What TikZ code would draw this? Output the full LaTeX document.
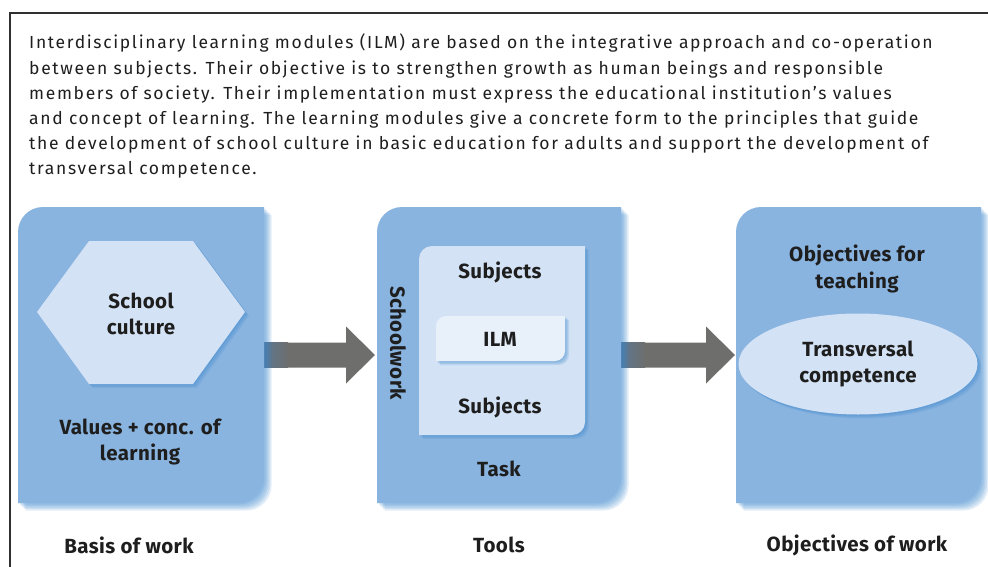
\documentclass[tikz,border=0pt]{standalone}
\usepackage{fontspec}
\setmainfont{Fira Sans}
\newfontfamily\introfont{Fira Sans}[LetterSpace=9.5]
\newfontfamily\headfont{Fira Sans}[LetterSpace=2]
\usetikzlibrary{calc,shapes.geometric,shadows}

\definecolor{panelblue}{HTML}{8AB4E0}
\definecolor{paleblue}{HTML}{D3E2F4}
\definecolor{ilmblue}{HTML}{E8F0FA}
\definecolor{glowblue}{HTML}{3A86CC}
\definecolor{arrowgray}{HTML}{6E6E6D}
\definecolor{arrowblue}{HTML}{5D7892}
\definecolor{inkgray}{HTML}{1E1E1E}
\definecolor{framegray}{HTML}{303030}

% box with rounded top left and bottom right corners: x1,y1,x2,y2,radius
\newcommand\panelpath[5]{(#1,#2+#5) arc[start angle=180,end angle=270,radius=#5] -- (#3,#2) -- (#3,#4-#5) arc[start angle=0,end angle=90,radius=#5] -- (#1,#4) -- cycle}

% fat grey arrow from a tail point to a tip point
\newcommand\blockarrow[2]{%
  \fill[arrowgray] ($(#1)+(0,-12.5)$) -- ($(#2)+(-29,-12.5)$) -- ($(#2)+(-29,-28.5)$) -- (#2)
    -- ($(#2)+(-29,28.5)$) -- ($(#2)+(-29,12.5)$) -- ($(#1)+(0,12.5)$) -- cycle;
  \shade[left color=arrowblue,right color=arrowgray] ($(#1)+(0,-12.5)$) rectangle ($(#1)+(24,12.5)$);}

\begin{document}
\begin{tikzpicture}[x=1pt,y=-1pt,
    glow/.style={drop shadow={shadow xshift=#1,shadow yshift=-#1,opacity=.15,fill=glowblue}},
    softshadow/.style={glow=1.5pt,glow=3pt,glow=4.5pt,glow=6pt,glow=7.5pt},
    smallshadow/.style={glow=1pt,glow=2pt,glow=3pt,glow=4pt},
    bodytext/.style={font=\introfont\fontsize{17.5}{25.2}\selectfont,text=inkgray,align=left,inner sep=0pt},
    heading/.style={font=\headfont\fontsize{20.5}{26.5}\selectfont\bfseries,text=inkgray,align=center,inner sep=0pt}]
  \useasboundingbox (0,0) rectangle (988,567);

  % frame
  \draw[framegray,line width=1.5pt] (988,13) -- (10,13) -- (10,567);

  \node[bodytext,anchor=north west] (intro) at (29,34) {Interdisciplinary learning modules (ILM) are based on the integrative approach and co-operation\\
    between subjects. Their objective is to strengthen growth as human beings and responsible\\
    members of society. Their implementation must express the educational institution’s values\\
    and concept of learning. The learning modules give a concrete form to the principles that guide\\
    the development of school culture in basic education for adults and support the development of\\
    transversal competence.};

  % arrow ends
  \coordinate (basis-e) at (264,355);
  \coordinate (tools-w) at (375,355);
  \coordinate (tools-e) at (621,355);
  \coordinate (goals-w) at (735,355);
  \blockarrow{basis-e}{tools-w}
  \blockarrow{tools-e}{goals-w}

  % the three panels
  \foreach \xa/\xb in {18/264, 377/621, 736/981}
    \fill[panelblue,softshadow] \panelpath{\xa}{207}{\xb}{503}{25};

  % basis of work
  \fill[paleblue,smallshadow] (37,312) -- (89,241) -- (193,241) -- (245,312) -- (193,384) -- (89,384) -- cycle;
  \node[heading] (culture) at (141,314) {School\\culture};
  \node[heading] (values) at (140,442) {Values + conc. of\\learning};

  % tools
  \fill[paleblue,smallshadow] \panelpath{419}{246}{585}{435}{13};
  \fill[ilmblue,smallshadow] \panelpath{436}{316}{565}{361}{10};
  \node[heading,rotate=-90] (schoolwork) at (398,343) {Schoolwork};
  \node[heading] (subj-a) at (500,272) {Subjects};
  \node[heading] (ilm) at (500,339) {ILM};
  \node[heading] (subj-b) at (500,407) {Subjects};
  \node[heading] (task) at (499,469) {Task};

  % objectives
  \node[heading] (teaching) at (857,269) {Objectives for\\teaching};
  \node[ellipse,fill=paleblue,smallshadow,minimum width=239,minimum height=101,heading] (transversal) at (858,364) {Transversal\\competence};

  % captions
  \node[heading] (basis) at (129,545) {Basis of work};
  \node[heading] (tools) at (499,545) {Tools};
  \node[heading] (goals) at (857,545) {Objectives of work};
\end{tikzpicture}
\end{document}
